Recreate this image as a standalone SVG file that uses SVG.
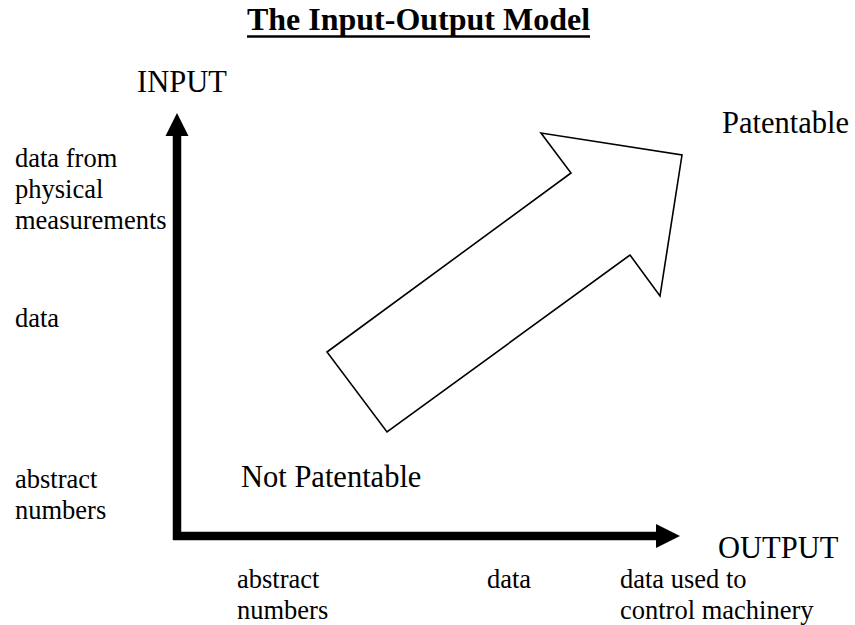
<svg xmlns="http://www.w3.org/2000/svg" width="855" height="625" viewBox="0 0 855 625">
<style>
text{font-family:"Liberation Serif","Times New Roman",serif;fill:#000}
.title{font-size:32px;font-weight:bold}
.big{font-size:30.5px}
.small{font-size:26.5px}
.axis{stroke:#000;stroke-width:8.5;fill:none}
.head{fill:#000;stroke:none}
.big-arrow{fill:#fff;stroke:#000;stroke-width:1.6;stroke-linejoin:miter}
</style>
<rect width="855" height="625" fill="#fff"/>
<g id="title">
<text class="title" x="418.5" y="30" text-anchor="middle">The Input-Output Model</text>
<line x1="247" y1="36.5" x2="590" y2="36.5" stroke="#000" stroke-width="2.5"/>
</g>
<g id="connectors">
<g id="input-axis">
<line class="axis" x1="177" y1="540" x2="177" y2="134"/>
<polygon class="head" points="177,113 165.5,136 188.5,136"/>
</g>
<g id="output-axis">
<line class="axis" x1="173" y1="536" x2="658" y2="536"/>
<polygon class="head" points="680,536 656,524 656,548"/>
</g>
<g id="trend-arrow">
<polygon class="big-arrow" points="327,352 571,173 541,133 682,155 660,296 630,255 387,432"/>
</g>
</g>
<g id="label-input"><text class="big" x="137" y="92">INPUT</text></g>
<g id="label-output"><text class="big" x="718" y="558">OUTPUT</text></g>
<g id="label-patentable"><text class="big" x="722" y="133">Patentable</text></g>
<g id="label-not-patentable"><text class="big" x="241" y="487">Not Patentable</text></g>
<g id="y-physical">
<text class="small" x="15" y="167">data from</text>
<text class="small" x="15" y="198">physical</text>
<text class="small" x="15" y="229">measurements</text>
</g>
<g id="y-data"><text class="small" x="15" y="327">data</text></g>
<g id="y-abstract">
<text class="small" x="15" y="488">abstract</text>
<text class="small" x="15" y="519">numbers</text>
</g>
<g id="x-abstract">
<text class="small" x="237" y="588">abstract</text>
<text class="small" x="237" y="619">numbers</text>
</g>
<g id="x-data"><text class="small" x="487" y="588">data</text></g>
<g id="x-machinery">
<text class="small" x="620" y="588">data used to</text>
<text class="small" x="620" y="619">control machinery</text>
</g>
</svg>
